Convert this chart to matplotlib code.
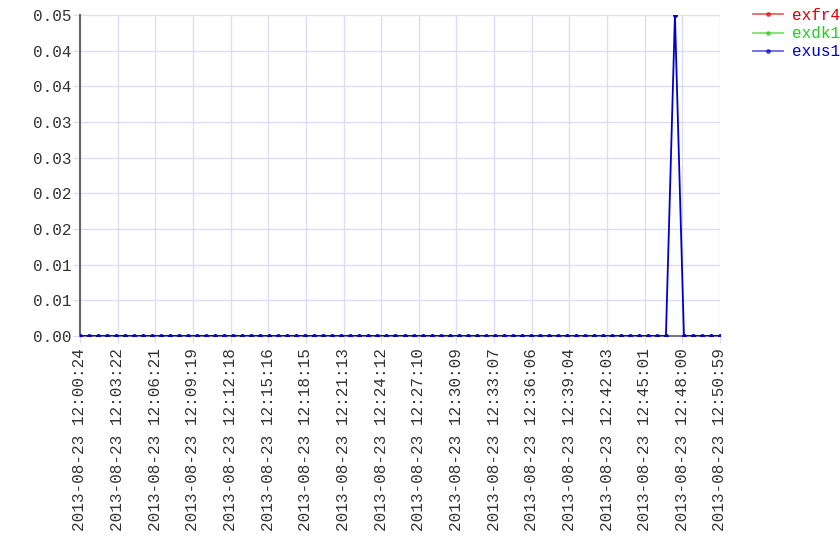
import pandas as pd
import matplotlib
matplotlib.use("Agg")
import matplotlib.pyplot as plt
from matplotlib.ticker import FixedLocator, FuncFormatter
import matplotlib.dates as mdates
import numpy as np

start = "2013-08-23 12:00:24"
end = "2013-08-23 12:50:59"
n_points = 72

series_names = ["exfr4", "exdk1", "exus1"]
series_colors = ["#dd0000", "#22cc22", "#0000cc"]

# exfr4 / exdk1 carry no samples in this window, only their legend entries
exfr4 = []
exdk1 = []
exus1 = [
    0, 0, 0, 0, 0, 0, 0, 0, 0, 0, 0, 0, 0, 0, 0, 0, 0, 0,
    0, 0, 0, 0, 0, 0, 0, 0, 0, 0, 0, 0, 0, 0, 0, 0, 0, 0,
    0, 0, 0, 0, 0, 0, 0, 0, 0, 0, 0, 0, 0, 0, 0, 0, 0, 0,
    0, 0, 0, 0, 0, 0, 0, 0, 0, 0, 0, 0, 0.05, 0, 0, 0, 0, 0,
]

times = pd.date_range(start, end, periods=n_points)

plt.rcParams["font.family"] = ["Liberation Mono", "DejaVu Sans Mono"]

fig = plt.figure(figsize=(8.4, 5.6), dpi=100)
ax = fig.add_axes([80 / 840, 1 - 336 / 560, 640 / 840, 321 / 560])

grid_col = "#dcdcfa"
for vals, name, col in zip([exfr4, exdk1, exus1], series_names, series_colors):
    ax.plot(times[:len(vals)], vals, color=col, linewidth=1.3, marker="o",
            markersize=2.5, label=name, zorder=3)

ax.set_xlim(times[0], times[-1])
ax.set_ylim(0, 0.05)

yt = np.linspace(0, 0.05, 10)
ax.yaxis.set_major_locator(FixedLocator(yt))
ax.yaxis.set_major_formatter(FuncFormatter(lambda v, p: f"{v:.2f}"))

xt = pd.date_range(start, end, periods=18)
ax.set_xticks(mdates.date2num(xt.to_pydatetime()))
ax.set_xticklabels([t.strftime("%Y-%m-%d %H:%M:%S") for t in xt], rotation=90)

ax.grid(True, color=grid_col, linewidth=1, zorder=0)
ax.set_axisbelow(True)
for s in ["top", "right"]:
    ax.spines[s].set_visible(False)
ax.spines["left"].set_color("#666670")
ax.spines["left"].set_linewidth(1.5)
ax.spines["bottom"].set_color("#777777")
ax.spines["bottom"].set_linewidth(1.5)
ax.tick_params(axis="both", colors=grid_col, length=5, labelsize=11.5,
               labelcolor="#333333")
ax.tick_params(axis="y", pad=1)

leg = fig.legend(loc="upper left", bbox_to_anchor=(753 / 840, 1 - 8 / 560),
                 frameon=False, fontsize=11.5, handlelength=1.9,
                 handletextpad=0.55, labelspacing=0.2, borderaxespad=0,
                 borderpad=0)
for txt, col in zip(leg.get_texts(), series_colors):
    txt.set_color(col)
for h in leg.legend_handles:
    h.set_alpha(0.6)

fig.savefig("out.png", dpi=100)
